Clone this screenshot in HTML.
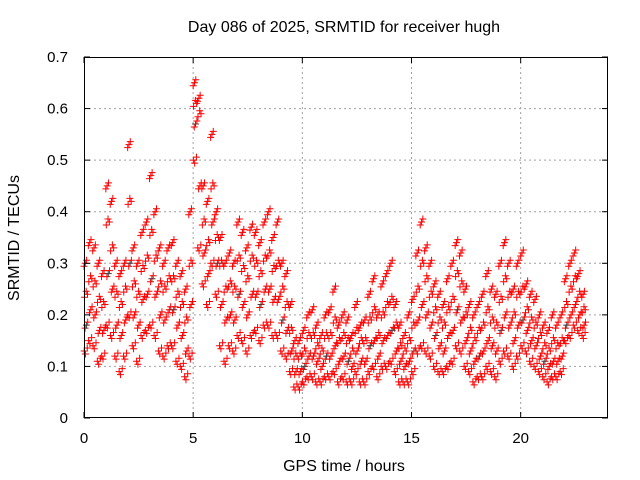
<!DOCTYPE html>
<html><head><meta charset="utf-8"><style>
body{margin:0;background:#fff}
svg{display:block;font-family:"Liberation Sans",sans-serif}
</style></head><body>
<svg id="c" width="640" height="480"></svg>
<script>
const binStart = 0, binStep = 0.2;
const xTicks = [0,5,10,15,20];
const yTicks = [0,0.1,0.2,0.3,0.4,0.5,0.6,0.7];
const yTickLabels = ["0","0.1","0.2","0.3","0.4","0.5","0.6","0.7"];
const hi = [0.30,0.34,0.33,0.30,0.28,0.45,0.42,0.30,0.28,0.30,0.53,0.33,0.30,0.36,0.38,0.47,0.40,0.33,0.30,0.33,0.34,0.30,0.28,0.25,0.40,0.65,0.62,0.45,0.42,0.55,0.40,0.35,0.30,0.32,0.30,0.38,0.36,0.33,0.37,0.36,0.34,0.38,0.40,0.35,0.38,0.30,0.28,0.22,0.15,0.15,0.17,0.20,0.21,0.18,0.16,0.20,0.21,0.25,0.18,0.20,0.19,0.16,0.22,0.18,0.19,0.24,0.27,0.20,0.26,0.28,0.30,0.22,0.18,0.16,0.20,0.23,0.32,0.38,0.33,0.30,0.26,0.24,0.22,0.27,0.30,0.34,0.32,0.25,0.22,0.20,0.22,0.24,0.28,0.25,0.24,0.30,0.34,0.30,0.25,0.30,0.32,0.26,0.24,0.23,0.20,0.18,0.17,0.20,0.18,0.20,0.27,0.30,0.32,0.28,0.24];
const upperMid = [0.24,0.27,0.26,0.23,0.22,0.38,0.33,0.24,0.22,0.25,0.42,0.26,0.24,0.29,0.31,0.36,0.31,0.26,0.25,0.27,0.27,0.24,0.22,0.19,0.30,0.61,0.59,0.38,0.34,0.45,0.35,0.30,0.25,0.26,0.25,0.31,0.29,0.27,0.31,0.30,0.28,0.31,0.32,0.29,0.30,0.25,0.22,0.17,0.12,0.12,0.13,0.16,0.16,0.14,0.13,0.16,0.16,0.19,0.15,0.16,0.15,0.13,0.17,0.15,0.15,0.19,0.21,0.16,0.20,0.22,0.23,0.18,0.14,0.13,0.15,0.18,0.25,0.30,0.27,0.24,0.21,0.19,0.18,0.21,0.23,0.28,0.26,0.20,0.17,0.15,0.17,0.18,0.21,0.19,0.18,0.23,0.27,0.24,0.20,0.24,0.25,0.21,0.19,0.18,0.16,0.14,0.13,0.15,0.14,0.15,0.22,0.25,0.27,0.24,0.21];
const lowerMid = [0.18,0.21,0.20,0.17,0.17,0.28,0.25,0.18,0.16,0.19,0.30,0.20,0.18,0.23,0.24,0.27,0.24,0.20,0.19,0.21,0.21,0.18,0.16,0.13,0.22,0.57,0.45,0.32,0.28,0.38,0.30,0.22,0.19,0.20,0.19,0.24,0.22,0.20,0.24,0.24,0.22,0.25,0.25,0.23,0.23,0.19,0.17,0.13,0.09,0.09,0.10,0.12,0.12,0.11,0.10,0.12,0.12,0.14,0.11,0.12,0.11,0.10,0.13,0.11,0.11,0.14,0.15,0.12,0.15,0.16,0.17,0.13,0.11,0.10,0.11,0.13,0.19,0.22,0.20,0.18,0.16,0.14,0.13,0.16,0.17,0.21,0.19,0.15,0.13,0.11,0.12,0.13,0.15,0.14,0.13,0.17,0.20,0.18,0.15,0.18,0.19,0.17,0.15,0.14,0.12,0.11,0.10,0.11,0.11,0.12,0.18,0.20,0.22,0.20,0.18];
const lo = [0.13,0.15,0.14,0.11,0.12,0.18,0.16,0.12,0.09,0.12,0.20,0.14,0.11,0.16,0.17,0.18,0.16,0.13,0.12,0.14,0.14,0.11,0.10,0.08,0.12,0.50,0.33,0.26,0.22,0.30,0.24,0.14,0.11,0.14,0.13,0.16,0.15,0.13,0.16,0.17,0.15,0.18,0.18,0.16,0.16,0.13,0.12,0.09,0.06,0.06,0.07,0.08,0.08,0.07,0.07,0.08,0.08,0.09,0.07,0.08,0.07,0.07,0.09,0.07,0.07,0.09,0.10,0.08,0.10,0.10,0.11,0.09,0.07,0.07,0.07,0.09,0.13,0.14,0.13,0.12,0.10,0.09,0.09,0.10,0.11,0.14,0.13,0.10,0.09,0.07,0.08,0.08,0.10,0.09,0.08,0.11,0.13,0.12,0.10,0.12,0.14,0.13,0.11,0.10,0.09,0.08,0.07,0.08,0.08,0.09,0.15,0.16,0.18,0.17,0.16];

const NS="http://www.w3.org/2000/svg", svg=document.getElementById('c');
const L=84,R=608,T=57,B=418;
const xs=v=>L+(v/24)*(R-L), ys=v=>B-(v/0.7)*(B-T);
function el(tag,attrs,parent){const e=document.createElementNS(NS,tag);for(const k in attrs)e.setAttribute(k,attrs[k]);(parent||svg).appendChild(e);return e;}
const grid=el('g',{});


xTicks.forEach(t=>{if(t>0)el('line',{x1:xs(t),x2:xs(t),y1:T,y2:B,stroke:'#a0a0a0','stroke-dasharray':'2,3'},grid);});
yTicks.forEach(t=>{if(t>0&&t<0.7)el('line',{x1:L,x2:R,y1:ys(t),y2:ys(t),stroke:'#a0a0a0','stroke-dasharray':'2,3'},grid);});
const pts=el('g',{stroke:'#f00','stroke-width':1});


const series=[hi,upperMid,lowerMid,lo], offs=[0,0.1,0.05,0.15];
const reps=[0,0.06,0.12];
series.forEach((arr,si)=>arr.forEach((v,i)=>{
  reps.forEach((r,ri)=>{
    const x=xs(binStart+i*binStep+((offs[si]+r)%binStep)), y=ys(v)+(ri-1)*(si%2?3:-3);
    const p=el('path',{d:`M${x-3.5},${y}h7M${x},${y-3.5}v7`,stroke:(si===2&&ri===1&&i%5===0)?'#404040':'#f00'},pts);
    
    
  });
}));
const ax=el('g',{stroke:'#000','stroke-width':1});


el('rect',{x:L+.5,y:T+.5,width:R-L-1,height:B-T-1,fill:'none'},ax);
xTicks.forEach(t=>{el('line',{x1:xs(t),x2:xs(t),y1:B,y2:B-6},ax);el('line',{x1:xs(t),x2:xs(t),y1:T,y2:T+6},ax);
  const tx=el('text',{x:xs(t),y:B+25,'text-anchor':'middle','font-size':15,fill:'#000',stroke:'none'});tx.textContent=t;
  
  });
yTicks.forEach((t,i)=>{el('line',{x1:L,x2:L+6,y1:ys(t),y2:ys(t)},ax);el('line',{x1:R,x2:R-6,y1:ys(t),y2:ys(t)},ax);
  const tx=el('text',{x:L-16,y:ys(t)+5,'text-anchor':'end','font-size':15,fill:'#000',stroke:'none'});tx.textContent=yTickLabels[i];
  
  });
const ti=el('text',{x:344,y:32,'text-anchor':'middle','font-size':16});ti.textContent='Day 086 of 2025, SRMTID for receiver hugh';


const xl=el('text',{x:344,y:471,'text-anchor':'middle','font-size':16});xl.textContent='GPS time / hours';


const yl=el('text',{x:0,y:0,'text-anchor':'middle','font-size':16,transform:'translate(19,238) rotate(-90)'});yl.textContent='SRMTID / TECUs';


</script>
</body></html>
